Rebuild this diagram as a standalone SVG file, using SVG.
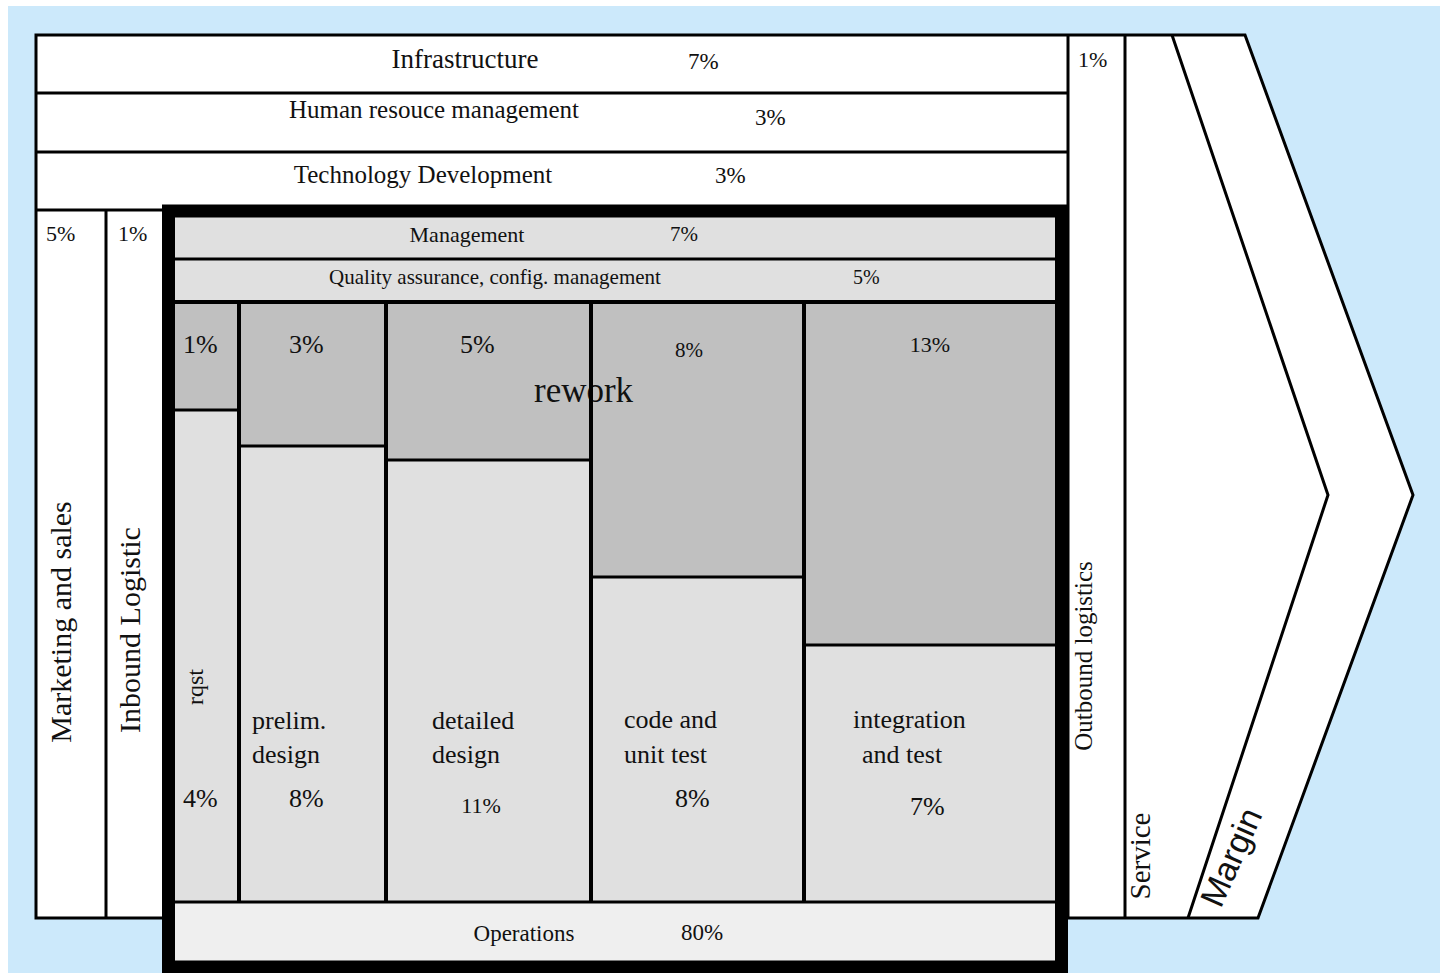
<svg xmlns="http://www.w3.org/2000/svg" width="1440" height="973" viewBox="0 0 1440 973">
  <style>
    .ln{stroke:#000;stroke-width:3;fill:none}
    .dv{stroke:#000;stroke-width:4;fill:none}
    .t{font-family:"Liberation Serif","Times New Roman",serif;fill:#111}
    .m{text-anchor:middle}
    .rw{fill:#c0c0c0}
    .lt{fill:#e0e0e0}
  </style>

  <!-- page backdrop -->
  <rect x="0" y="0" width="1440" height="973" fill="#ffffff"/>
  <rect x="8" y="6" width="1432" height="967" fill="#cce9fb"/>

  <!-- outer value-chain arrow -->
  <g id="value-chain">
    <polygon points="36,35 1245,35 1413,495 1258,918 36,918" style="fill:#ffffff;stroke:#000;stroke-width:3"/>
    <line class="ln" x1="36" y1="93" x2="1068" y2="93"/>
    <line class="ln" x1="36" y1="152" x2="1068" y2="152"/>
    <line class="ln" x1="36" y1="210" x2="1068" y2="210"/>
    <line class="ln" x1="1068" y1="35" x2="1068" y2="918"/>
    <line class="ln" x1="106" y1="210" x2="106" y2="918"/>
    <line class="ln" x1="1125" y1="35" x2="1125" y2="918"/>
    <polyline class="ln" points="1172,35 1328,495 1188,918"/>
  </g>

  <g id="infrastructure">
    <text class="t m" x="465" y="68" font-size="27">Infrastructure</text>
    <text class="t" x="688" y="69" font-size="23">7%</text>
  </g>
  <g id="human-resource">
    <text class="t m" x="434" y="118" font-size="25">Human resouce management</text>
    <text class="t" x="755" y="125" font-size="23">3%</text>
  </g>
  <g id="technology-development">
    <text class="t m" x="423" y="183" font-size="25">Technology Development</text>
    <text class="t" x="715" y="183" font-size="23">3%</text>
  </g>
  <g id="marketing">
    <text class="t" x="46" y="241" font-size="22">5%</text>
    <text class="t m" transform="translate(71,622) rotate(-90)" font-size="30">Marketing and sales</text>
  </g>
  <g id="inbound">
    <text class="t" x="118" y="241" font-size="22">1%</text>
    <text class="t m" transform="translate(140,630) rotate(-90)" font-size="30">Inbound Logistic</text>
  </g>
  <g id="outbound">
    <text class="t" x="1078" y="67" font-size="22">1%</text>
    <text class="t m" transform="translate(1092,656) rotate(-90)" font-size="25">Outbound logistics</text>
  </g>
  <g id="service">
    <text class="t m" transform="translate(1150,856) rotate(-90)" font-size="29">Service</text>
  </g>
  <g id="margin">
    <text transform="translate(1231,857) rotate(-66)" text-anchor="middle" dy="0.35em" font-family="Liberation Sans, Arial, sans-serif" font-size="34" fill="#111">Margin</text>
  </g>

  <!-- software project block -->
  <g id="project">
    <rect class="lt" x="175" y="217" width="880" height="43"/>
    <rect class="lt" x="175" y="260" width="880" height="42"/>
    <rect class="lt" x="175" y="302" width="880" height="600"/>
    <rect x="175" y="902" width="880" height="60" fill="#efefef"/>
    <rect class="rw" x="175" y="302" width="64" height="108"/>
    <rect class="rw" x="239" y="302" width="147" height="144"/>
    <rect class="rw" x="386" y="302" width="205" height="158"/>
    <rect class="rw" x="591" y="302" width="213" height="275"/>
    <rect class="rw" x="804" y="302" width="251" height="343"/>
  </g>

  <g id="management">
    <text class="t m" x="467" y="242" font-size="22">Management</text>
    <text class="t" x="670" y="241" font-size="21">7%</text>
  </g>
  <g id="quality-assurance">
    <text class="t m" x="495" y="284" font-size="21">Quality assurance, config. management</text>
    <text class="t" x="853" y="284" font-size="20">5%</text>
  </g>

  <text id="rework" class="t" x="534" y="402" font-size="35">rework</text>

  <g id="rqst">
    <text class="t" x="183" y="353" font-size="26">1%</text>
    <text class="t m" transform="translate(203,687) rotate(-90)" font-size="24">rqst</text>
    <text class="t" x="183" y="807" font-size="26">4%</text>
  </g>
  <g id="prelim-design">
    <text class="t" x="289" y="353" font-size="26">3%</text>
    <text class="t" x="252" y="729" font-size="26">prelim.</text>
    <text class="t" x="252" y="763" font-size="26">design</text>
    <text class="t" x="289" y="807" font-size="26">8%</text>
  </g>
  <g id="detailed-design">
    <text class="t" x="460" y="353" font-size="26">5%</text>
    <text class="t" x="432" y="729" font-size="26">detailed</text>
    <text class="t" x="432" y="763" font-size="26">design</text>
    <text class="t m" x="481" y="813" font-size="22">11%</text>
  </g>
  <g id="code-unit-test">
    <text class="t m" x="689" y="357" font-size="21">8%</text>
    <text class="t" x="624" y="728" font-size="26">code and</text>
    <text class="t" x="624" y="763" font-size="26">unit test</text>
    <text class="t" x="675" y="807" font-size="26">8%</text>
  </g>
  <g id="integration-test">
    <text class="t m" x="930" y="352" font-size="22">13%</text>
    <text class="t" x="853" y="728" font-size="26">integration</text>
    <text class="t" x="862" y="763" font-size="26">and test</text>
    <text class="t" x="910" y="815" font-size="26">7%</text>
  </g>
  <g id="operations">
    <text class="t m" x="524" y="941" font-size="23">Operations</text>
    <text class="t" x="681" y="940" font-size="23">80%</text>
  </g>

  <!-- cell dividers -->
  <g id="dividers">
    <line class="ln" x1="175" y1="259" x2="1055" y2="259"/>
    <line class="dv" x1="175" y1="302" x2="1055" y2="302"/>
    <line class="dv" x1="239" y1="302" x2="239" y2="902"/>
    <line class="dv" x1="386" y1="302" x2="386" y2="902"/>
    <line class="dv" x1="591" y1="302" x2="591" y2="902"/>
    <line class="dv" x1="804" y1="302" x2="804" y2="902"/>
    <line class="ln" x1="175" y1="410" x2="239" y2="410"/>
    <line class="ln" x1="239" y1="446" x2="386" y2="446"/>
    <line class="ln" x1="386" y1="460" x2="591" y2="460"/>
    <line class="ln" x1="591" y1="577" x2="804" y2="577"/>
    <line class="ln" x1="804" y1="645" x2="1055" y2="645"/>
    <line class="ln" x1="175" y1="902" x2="1055" y2="902"/>
  </g>

  <rect id="project-border" x="168.5" y="211" width="893" height="756" fill="none" stroke="#000" stroke-width="13"/>
</svg>
